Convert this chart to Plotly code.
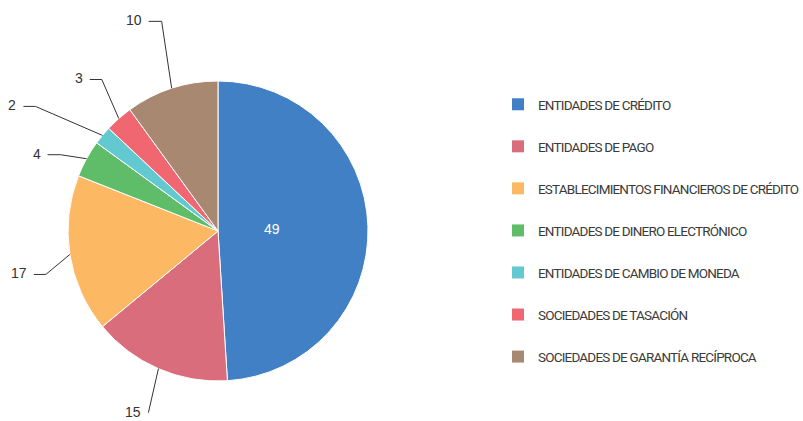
import math
import plotly.graph_objects as go

# Categories, values and colours
categories = [
    "ENTIDADES DE CRÉDITO",
    "ENTIDADES DE PAGO",
    "ESTABLECIMIENTOS FINANCIEROS DE CRÉDITO",
    "ENTIDADES DE DINERO ELECTRÓNICO",
    "ENTIDADES DE CAMBIO DE MONEDA",
    "SOCIEDADES DE TASACIÓN",
    "SOCIEDADES DE GARANTÍA RECÍPROCA",
]
values = [49, 15, 17, 4, 2, 3, 10]
colors = ["#4180c5", "#d96d7c", "#fcb863", "#5fbd6a", "#63c9d1", "#f06671", "#a98871"]

# Layout geometry (pixels)
W, H = 803, 421
CX, CY, R = 218, 231, 150

# Per-label leader style: elbow offset from slice edge, horizontal tail length
# (None = label drawn inside the slice)
leader_offsets = [None, (-10, 44), (-24, 20), (-26, -4), (-67, -29), (-17, -39), (-10, -67)]
leader_tails = [0, 0, 12, 13, 12, 12, 13]

def px_x(x):
    return x / W

def px_y(y):
    return 1 - y / H

fig = go.Figure()

fig.add_trace(go.Pie(
    labels=categories,
    values=values,
    sort=False,
    direction="clockwise",
    rotation=0,
    marker=dict(colors=colors, line=dict(color="white", width=1)),
    textinfo="none",
    showlegend=False,
    domain=dict(x=[px_x(CX - R), px_x(CX + R)], y=[px_y(CY + R), px_y(CY - R)]),
    hoverinfo="label+value",
))

# Legend entries, one group each so the rows can be spaced apart;
# tightened letter spacing gives a condensed look
for i, (cat, col) in enumerate(zip(categories, colors)):
    fig.add_trace(go.Scatter(
        x=[None], y=[None], mode="markers",
        name='<span style="letter-spacing:-0.8px">' + cat + "</span>",
        legendgroup=str(i),
        marker=dict(symbol="square", size=12, color=col),
        hoverinfo="skip",
    ))

# Value labels with leader lines, positioned from the slice angles
total = sum(values)
cum = 0
shapes = []
annotations = []
for v, off, tail in zip(values, leader_offsets, leader_tails):
    mid = (cum + v / 2) / total * 2 * math.pi
    cum += v
    sx, sy = math.sin(mid), -math.cos(mid)
    if off is None:
        tx, ty = CX + 0.36 * R * sx, CY + 0.36 * R * sy
        annotations.append(dict(
            x=px_x(tx), y=px_y(ty), xref="paper", yref="paper", text=str(v),
            showarrow=False, font=dict(family="Liberation Sans, Arial, sans-serif", size=14, color="white"),
        ))
        continue
    ex, ey = CX + R * sx, CY + R * sy
    bx, by = ex + off[0], ey + off[1]
    hx = bx - tail
    path = "M {:.4f} {:.4f} L {:.4f} {:.4f} L {:.4f} {:.4f}".format(
        px_x(ex), px_y(ey), px_x(bx), px_y(by), px_x(hx), px_y(by))
    shapes.append(dict(type="path", path=path, xref="paper", yref="paper",
                       line=dict(color="#333333", width=1)))
    annotations.append(dict(
        x=px_x(hx - 5), y=px_y(by - 1), xref="paper", yref="paper", text=str(v),
        xanchor="right", yanchor="middle", showarrow=False,
        font=dict(family="Liberation Sans, Arial, sans-serif", size=14, color="#333333"),
    ))

fig.update_layout(
    width=W, height=H,
    margin=dict(l=0, r=0, t=0, b=0, autoexpand=False),
    paper_bgcolor="white", plot_bgcolor="white",
    xaxis=dict(visible=False), yaxis=dict(visible=False),
    shapes=shapes, annotations=annotations,
    showlegend=True,
    legend=dict(
        x=px_x(498), y=px_y(89), xanchor="left", yanchor="top",
        font=dict(family="Roboto, sans-serif", size=13.5, color="#3a3a3a"),
        tracegroupgap=21.5, itemclick=False, itemdoubleclick=False,
        bgcolor="rgba(0,0,0,0)",
    ),
)

fig.write_html("out.html")
